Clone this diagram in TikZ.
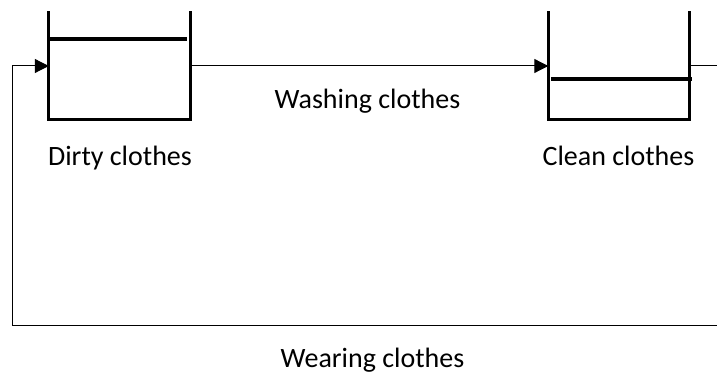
\documentclass[tikz,border=0pt]{standalone}
\usepackage{fontspec}
\setmainfont{Carlito}
\usetikzlibrary{arrows.meta}
\begin{document}
\begin{tikzpicture}[x=1pt,y=-1pt,
  tankbody/.style={minimum width=141pt,minimum height=106pt,inner sep=0pt,draw=none},
  wall/.style={line width=3pt,line cap=rect},
  level/.style={line width=3.5pt},
  flow/.style={line width=1pt},
  flowarrow/.style={flow,-{Triangle[length=14pt,width=14pt]}},
  lbl/.style={font=\fontsize{28}{32}\selectfont,inner sep=0pt,anchor=base}]
\useasboundingbox (0,0) rectangle (717,374);
\node[tankbody] (dirty) at (119.5,66) {};
\node[tankbody] (clean) at (619,66) {};
\coordinate (outR) at (722,66);
\coordinate (cornerR) at (722,325);
\coordinate (cornerL) at (12,325);
\coordinate (inL) at (12,66);
% walls
\draw[wall] (dirty.north west) -- (dirty.south west) -- (dirty.south east) -- (dirty.north east);
\draw[wall] (clean.north west) -- (clean.south west) -- (clean.south east) -- (clean.north east);
% levels
\draw[level] ([yshift=-26pt]dirty.north west) -- ([yshift=-26pt,xshift=-3pt]dirty.north east);
\draw[level] ([yshift=-66pt,xshift=3pt]clean.north west) -- ([yshift=-66pt,xshift=2pt]clean.north east);
% connectors
\draw[flowarrow] (dirty.east) -- (clean.west);
\draw[flow] (clean.east) -- (outR);
\draw[flowarrow] (outR) -- (cornerR) -- (cornerL) -- (inL) -- (dirty.west);
% labels
\node[lbl] (wash) at (367.5,109) {Washing clothes};
\node[lbl] (dirtylbl) at (120,166) {Dirty clothes};
\node[lbl] (cleanlbl) at (618.5,166) {Clean clothes};
\node[lbl] (wear) at (372.5,367) {Wearing clothes};
\end{tikzpicture}
\end{document}
